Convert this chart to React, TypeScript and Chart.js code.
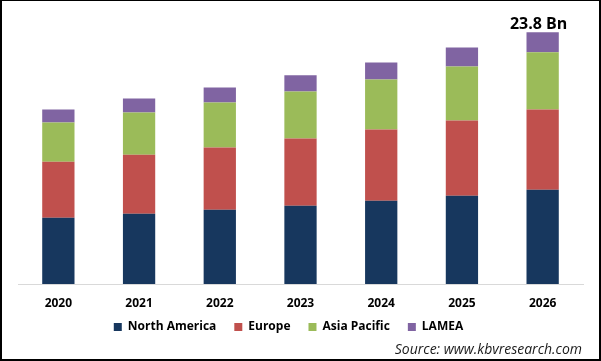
import React, { useEffect, useRef } from "react";
import { Chart, registerables } from "chart.js";

Chart.register(...registerables);

const categories = ["2020", "2021", "2022", "2023", "2024", "2025", "2026"];
const northAmerica = [6.26, 6.64, 7.02, 7.4, 7.87, 8.34, 8.91];
const europe = [5.31, 5.59, 5.88, 6.35, 6.73, 7.11, 7.59];
const asiaPacific = [3.7, 3.98, 4.27, 4.46, 4.74, 5.12, 5.4];
const lamea = [1.23, 1.33, 1.42, 1.52, 1.61, 1.8, 1.9];
const seriesNames = ["North America", "Europe", "Asia Pacific", "LAMEA"];
const seriesColors = ["#17375E", "#C0504D", "#9BBB59", "#8064A2"];
const unit = "Bn";
const sourceText = "Source: www.kbvresearch.com";

const totalLabelPlugin = {
  id: "totalLabel",
  afterDatasetsDraw(chart: any) {
    const last = categories.length - 1;
    const topMeta = chart.getDatasetMeta(chart.data.datasets.length - 1);
    const el = topMeta.data[last];
    if (!el) return;
    const total = chart.data.datasets.reduce((s: number, d: any) => s + d.data[last], 0);
    const ctx = chart.ctx;
    ctx.save();
    ctx.font = "bold 16px 'Open Sans'";
    ctx.fillStyle = "#000000";
    ctx.textAlign = "center";
    ctx.textBaseline = "alphabetic";
    ctx.fillText(total.toFixed(1) + " " + unit, el.x - 4, el.y - 3);
    ctx.restore();
  },
};

const legendShiftPlugin = {
  id: "legendShift",
  afterLayout(chart: any) {
    const lg = chart.legend;
    if (!lg) return;
    lg.left -= 12;
    lg.right -= 12;
    lg.top -= 11;
    lg.bottom -= 11;
  },
};

export default function App() {
  const canvasRef = useRef<HTMLCanvasElement>(null);

  useEffect(() => {
    if (!canvasRef.current) return;
    const seriesData = [northAmerica, europe, asiaPacific, lamea];
    const chart = new Chart(canvasRef.current, {
      type: "bar",
      data: {
        labels: categories,
        datasets: seriesData.map((d, i) => ({
          label: seriesNames[i],
          data: d,
          backgroundColor: seriesColors[i],
          borderWidth: 0,
          barPercentage: 0.4,
          categoryPercentage: 1,
        })),
      },
      options: {
        animation: false,
        responsive: false,
        maintainAspectRatio: false,
        layout: { padding: { left: 18, right: 18, top: 9, bottom: 7 } },
        scales: {
          x: {
            stacked: true,
            grid: { display: false, drawTicks: false },
            border: { display: true, color: "#d9d9d9", width: 1 },
            ticks: {
              color: "#000000",
              padding: 12,
              font: { family: "'Open Sans'", size: 12, weight: "bold" },
            },
            afterFit(scale: any) {
              scale.height = 30;
            },
          },
          y: {
            stacked: true,
            display: false,
            min: 0,
            max: 26,
          },
        },
        plugins: {
          legend: {
            position: "bottom",
            labels: {
              boxWidth: 8,
              boxHeight: 8,
              padding: 18,
              color: "#000000",
              font: { family: "'Open Sans'", size: 12, weight: "bold" },
            },
          },
          tooltip: { enabled: false },
        },
      },
      plugins: [totalLabelPlugin, legendShiftPlugin],
    });
    return () => chart.destroy();
  }, []);

  return (
    <div style={{ position: "absolute", left: 0, top: 0, width: 601, height: 361, background: "#ffffff" }}>
      <canvas ref={canvasRef} width={601} height={361} style={{ position: "absolute", left: 0, top: 0, width: 601, height: 361 }} />
      <div
        style={{
          position: "absolute",
          right: 19,
          top: 340,
          fontFamily: "'Open Sans'",
          fontStyle: "italic",
          fontSize: 14,
          lineHeight: "18px",
          color: "#1a1a1a",
          whiteSpace: "nowrap",
        }}
      >
        {sourceText}
      </div>
      <div
        style={{
          position: "absolute",
          left: 0,
          top: 0,
          width: 601,
          height: 361,
          boxSizing: "border-box",
          borderTop: "1px solid #000",
          borderLeft: "2px solid #000",
          borderRight: "2px solid #000",
          borderBottom: "2px solid #000",
          pointerEvents: "none",
        }}
      />
    </div>
  );
}
